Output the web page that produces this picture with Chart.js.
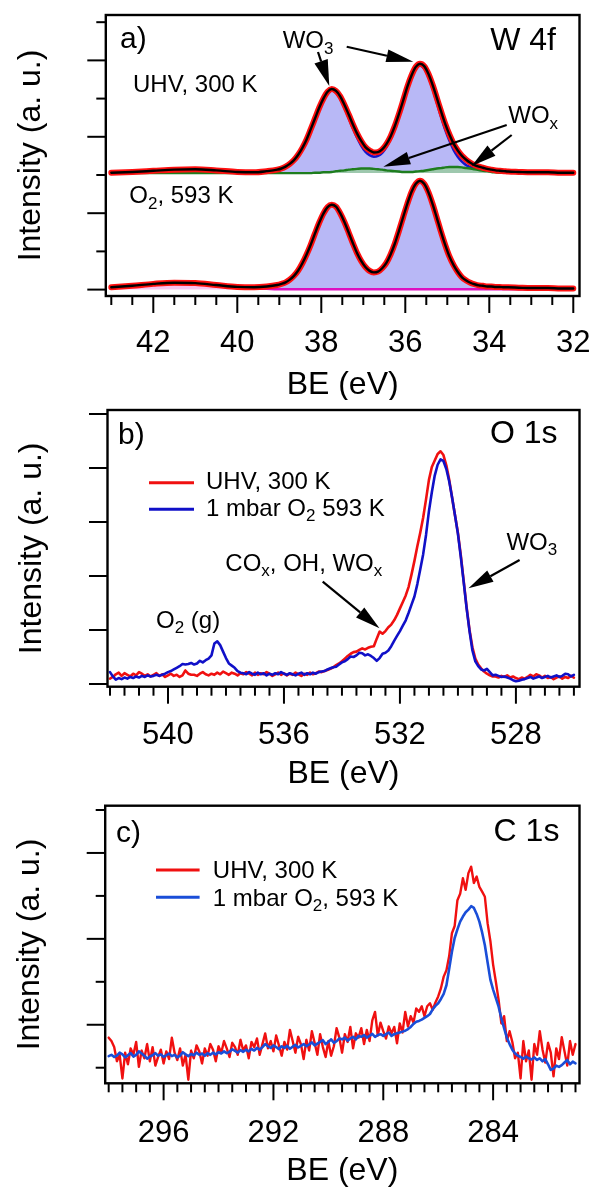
<!DOCTYPE html>
<html><head><meta charset="utf-8">
<script src="https://cdn.jsdelivr.net/npm/chart.js@4.4.1/dist/chart.umd.min.js"></script>
<style>
html,body{margin:0;padding:0;background:#fff;}
#wrap{position:relative;width:593px;height:1189px;overflow:hidden;background:#fff;}
.pane{position:absolute;left:0;width:593px;}
canvas{display:block;}
</style></head><body>
<div id="wrap">
<div class="pane" style="top:0;height:400px"><canvas id="ca" width="593" height="400"></canvas></div>
<div class="pane" style="top:400px;height:392px"><canvas id="cb" width="593" height="392"></canvas></div>
<div class="pane" style="top:792px;height:397px"><canvas id="cc" width="593" height="397"></canvas></div>
</div>
<script>
const FONT = "'Liberation Sans', Arial, Helvetica, sans-serif";

// ---------- Panel a) W 4f ----------
const w4fBE = [43.0,42.5,42.0,41.5,41.0,40.5,40.0,39.6,39.3,
  39.05,38.95,38.85,38.75,38.65,38.55,38.45,38.35,38.25,38.15,
  38.05,37.95,37.85,37.75,37.65,37.55,37.45,37.35,37.25,37.15,
  37.05,36.95,36.85,36.75,36.65,36.55,36.45,36.35,36.25,36.15,
  36.05,35.95,35.85,35.75,35.65,35.55,35.45,35.35,35.25,35.15,
  35.05,34.95,34.85,34.75,34.65,34.55,34.45,34.35,34.25,34.15,
  34.05,33.95,33.85,33.75,33.65,33.55,33.3,33.0,32.6,32.3,32.0];
const w4fUhvFit = [3.06,3.08,3.11,3.14,3.15,3.12,3.08,3.07,3.10,
  3.14,3.17,3.22,3.29,3.39,3.53,3.71,3.93,4.20,4.48,
  4.76,5.00,5.18,5.25,5.20,5.06,4.84,4.59,4.33,4.09,
  3.89,3.73,3.64,3.59,3.60,3.67,3.81,4.01,4.28,4.60,
  4.95,5.31,5.61,5.83,5.91,5.85,5.65,5.36,5.02,4.67,
  4.34,4.06,3.82,3.64,3.50,3.40,3.32,3.26,3.22,3.19,
  3.16,3.14,3.12,3.11,3.10,3.09,3.08,3.07,3.07,3.06,3.06];
const w4fUhvWo3 = [null,null,null,null,null,null,null,3.06,3.09,
  3.14,3.17,3.22,3.29,3.39,3.53,3.71,3.93,4.19,4.47,
  4.75,4.99,5.15,5.21,5.16,5.00,4.77,4.50,4.23,3.98,
  3.77,3.61,3.52,3.48,3.50,3.58,3.73,3.95,4.23,4.56,
  4.92,5.28,5.58,5.79,5.87,5.79,5.57,5.26,4.90,4.53,
  4.19,3.90,3.66,3.48,3.35,3.26,3.21,3.17,3.14,3.13,
  3.11,3.11,3.10,3.10,3.09,3.09,3.08,3.07,3.07,3.07,3.06];
const w4fUhvWox = [3.05,3.05,3.05,3.05,3.05,3.05,3.05,3.05,3.05,
  3.05,3.05,3.05,3.05,3.05,3.05,3.05,3.05,3.05,3.06,
  3.06,3.07,3.07,3.08,3.10,3.11,3.12,3.14,3.15,3.16,
  3.17,3.17,3.17,3.16,3.15,3.14,3.12,3.11,3.10,3.09,
  3.08,3.08,3.08,3.09,3.10,3.11,3.13,3.15,3.17,3.18,
  3.20,3.21,3.21,3.21,3.20,3.18,3.17,3.15,3.13,3.11,
  3.10,3.08,3.07,3.06,3.06,3.06,3.05,3.05,3.05,3.05,3.05];
const w4fO2Fit = [0.06,0.10,0.15,0.18,0.17,0.12,0.07,0.06,0.08,
  0.12,0.15,0.19,0.26,0.36,0.50,0.69,0.92,1.18,1.47,
  1.75,1.99,2.16,2.22,2.17,2.00,1.77,1.50,1.22,0.96,
  0.75,0.59,0.49,0.45,0.47,0.56,0.70,0.92,1.20,1.54,
  1.90,2.25,2.56,2.77,2.85,2.77,2.55,2.24,1.88,1.51,
  1.17,0.87,0.64,0.46,0.32,0.24,0.18,0.14,0.11,0.10,
  0.08,0.08,0.07,0.07,0.06,0.06,0.05,0.04,0.04,0.03,0.03];
const w4fO2Wo3 = [null,null,null,null,null,null,null,null,0.05,
  0.11,0.14,0.18,0.25,0.35,0.49,0.68,0.91,1.17,1.46,
  1.74,1.98,2.15,2.21,2.16,1.99,1.76,1.49,1.21,0.95,
  0.74,0.58,0.48,0.44,0.46,0.55,0.69,0.91,1.19,1.53,
  1.89,2.24,2.55,2.76,2.84,2.76,2.54,2.23,1.87,1.50,
  1.16,0.86,0.63,0.45,0.31,0.23,0.17,0.13,0.10,0.09,
  0.07,0.07,0.06,0.06,0.05,0.05,0.04,0.03,0.03,0.02,0.02];
const w4fO2Bg = [0.05,0.09,0.14,0.17,0.16,0.11,0.06,0.03,0.02,
  0.01,0.01,0.01,0.01,0.01,0.01,0.01,0.01,0.01,0.01,
  0.01,0.01,0.01,0.01,0.01,0.01,0.01,0.01,0.01,0.01,
  0.01,0.01,0.01,0.01,0.01,0.01,0.01,0.01,0.01,0.01,
  0.01,0.01,0.01,0.01,0.01,0.01,0.01,0.01,0.01,0.01,
  0.01,0.01,0.01,0.01,0.01,0.01,0.01,0.01,0.01,0.01,
  0.01,0.01,0.01,0.01,0.01,0.01,0.01,0.01,0.01,0.01,0.01];
const w4fBaseline = 3.05;
const w4fTickLabels = [32,34,36,38,40,42];
const w4fYTicks = [0,1,2,3,4,5,6,7];

// ---------- Panel b) O 1s ----------
const o1sStart = 526.0, o1sStep = 0.1;
const o1sUhv = [
 0.12,0.15,0.11,0.13,0.10,0.14,0.12,0.09,0.13,0.11,
 0.15,0.12,0.16,0.18,0.14,0.17,0.13,0.10,0.12,0.09,
 0.11,0.14,0.12,0.16,0.13,0.15,0.12,0.14,0.14,0.16,
 0.19,0.23,0.29,0.36,0.47,0.68,1.00,1.42,1.90,2.38,
 2.80,3.12,3.45,3.78,4.05,4.24,4.31,4.26,4.14,4.02,
 3.78,3.42,3.08,2.80,2.55,2.28,2.03,1.80,1.64,1.52,
 1.40,1.28,1.18,1.10,1.05,0.98,0.93,0.97,0.84,0.70,
 0.69,0.67,0.64,0.66,0.63,0.60,0.59,0.56,0.52,0.47,
 0.42,0.38,0.35,0.31,0.28,0.26,0.24,0.22,0.23,0.20,
 0.18,0.21,0.17,0.19,0.15,0.18,0.21,0.17,0.19,0.16,
 0.20,0.17,0.21,0.18,0.15,0.19,0.22,0.18,0.20,0.17,
 0.21,0.16,0.19,0.22,0.18,0.20,0.16,0.19,0.21,0.17,
 0.20,0.23,0.18,0.21,0.17,0.19,0.16,0.18,0.22,0.19,
 0.15,0.17,0.17,0.19,0.25,0.16,0.13,0.17,0.15,0.19,
 0.16,0.13,0.18,0.15,0.20,0.17,0.14,0.18,0.15,0.19,
 0.22,0.16,0.19,0.14,0.17,0.20,0.15,0.21,0.18,0.13,
 0.10];
const o1sO2 = [
 0.17,0.14,0.18,0.19,0.15,0.13,0.16,0.14,0.12,0.15,
 0.13,0.11,0.14,0.12,0.10,0.13,0.11,0.09,0.08,0.06,
 0.05,0.07,0.10,0.12,0.14,0.13,0.15,0.17,0.16,0.22,
 0.28,0.25,0.27,0.33,0.42,0.62,0.98,1.40,1.88,2.35,
 2.78,3.12,3.45,3.75,3.98,4.13,4.16,4.06,3.86,3.55,
 3.20,2.76,2.40,2.12,1.85,1.62,1.47,1.32,1.18,1.08,
 0.98,0.89,0.80,0.70,0.62,0.58,0.56,0.48,0.43,0.48,
 0.52,0.55,0.53,0.57,0.58,0.53,0.50,0.51,0.46,0.42,
 0.40,0.36,0.32,0.31,0.29,0.27,0.24,0.23,0.22,0.19,
 0.21,0.18,0.20,0.17,0.21,0.19,0.16,0.18,0.20,0.17,
 0.19,0.22,0.18,0.20,0.17,0.19,0.16,0.20,0.18,0.21,
 0.17,0.19,0.22,0.18,0.20,0.21,0.24,0.30,0.34,0.38,
 0.48,0.60,0.72,0.79,0.75,0.53,0.47,0.44,0.40,0.43,
 0.38,0.36,0.39,0.37,0.36,0.37,0.33,0.30,0.27,0.24,
 0.22,0.19,0.17,0.15,0.17,0.15,0.14,0.16,0.13,0.15,
 0.12,0.14,0.11,0.13,0.10,0.12,0.09,0.11,0.08,0.14,
 0.22];
const o1sTickLabels = [528,532,536,540];
const o1sYTicks = [0,1,2,3,4,5];

// ---------- Panel c) C 1s ----------
const c1sStart = 281.0, c1sStep = 0.1;
const c1sUhv = [
 0.55,0.30,0.62,0.05,0.38,0.71,0.20,0.45,-0.20,0.35,
 0.58,0.12,0.42,0.85,0.30,0.55,-0.28,0.40,0.15,0.62,
 -0.25,0.35,0.22,0.60,0.85,0.62,1.20,1.03,1.58,2.00,
 2.40,2.95,3.36,3.98,4.10,4.21,4.45,4.30,4.68,4.53,
 4.14,4.41,4.05,3.90,3.30,3.13,2.60,2.27,2.12,1.85,
 1.66,1.52,1.35,1.50,1.43,1.20,1.43,1.30,1.38,1.05,
 1.20,0.96,1.30,0.82,1.03,0.57,0.95,0.80,0.96,0.68,
 0.85,1.05,0.75,1.30,1.10,0.62,0.88,0.55,0.92,0.70,
 0.80,0.45,0.95,0.60,0.78,0.35,0.70,0.92,0.50,0.28,
 0.62,0.25,0.48,0.78,0.30,0.58,0.85,0.40,0.65,0.20,
 0.55,0.72,0.35,0.62,0.88,0.42,0.60,0.28,0.52,0.75,
 0.38,0.62,0.45,0.80,0.55,0.30,0.68,0.48,0.60,0.22,
 0.52,0.40,0.65,0.30,0.48,0.58,0.25,0.45,0.62,0.35,
 0.50,0.15,0.42,0.55,0.28,0.45,0.10,0.38,0.52,0.22,
 0.40,-0.28,0.30,0.05,0.45,0.18,0.35,0.70,0.20,0.38,
 0.10,0.42,0.25,0.05,0.48,0.15,0.55,0.22,0.40,0.02,
 0.60,0.30,0.45,0.08,0.35,-0.25,0.30,0.15,0.48,0.62,
 0.70];
const c1sO2 = [
 0.10,0.14,0.08,0.18,0.12,0.06,0.02,0.05,-0.02,-0.05,
 0.08,0.20,0.15,0.22,0.18,0.24,0.19,0.22,0.26,0.21,
 0.25,0.28,0.33,0.42,0.55,0.70,0.92,1.15,1.42,1.62,
 1.82,2.05,2.45,2.85,3.15,3.40,3.58,3.72,3.76,3.68,
 3.62,3.52,3.40,3.22,3.02,2.70,2.30,1.92,1.72,1.60,
 1.50,1.44,1.36,1.25,1.20,1.16,1.12,1.09,1.07,1.02,
 0.95,0.90,0.86,0.84,0.82,0.80,0.78,0.74,0.82,0.78,
 0.74,0.78,0.76,0.72,0.79,0.74,0.70,0.76,0.72,0.74,
 0.66,0.72,0.68,0.63,0.70,0.66,0.68,0.62,0.58,0.66,
 0.60,0.55,0.64,0.60,0.56,0.52,0.59,0.54,0.50,0.55,
 0.51,0.47,0.53,0.49,0.44,0.51,0.46,0.50,0.43,0.48,
 0.52,0.46,0.50,0.55,0.48,0.42,0.46,0.40,0.44,0.38,
 0.42,0.37,0.41,0.35,0.39,0.43,0.37,0.34,0.38,0.33,
 0.36,0.31,0.35,0.30,0.34,0.28,0.33,0.30,0.35,0.29,
 0.32,0.27,0.31,0.36,0.28,0.24,0.30,0.27,0.33,0.29,
 0.25,0.31,0.28,0.34,0.29,0.26,0.21,0.28,0.33,0.38,
 0.30,0.26,0.34,0.29,0.24,0.31,0.35,0.28,0.25,0.30,
 0.27];
const c1sTickLabels = [284,288,292,296];
const c1sYTicks = [0,1,2,3,4,5,6];

const seriesLabels = { uhv: 'UHV, 300 K', o2b: '1 mbar O\u2082 593 K', o2c: '1 mbar O\u2082, 593 K' };

// ---------- helpers ----------
function energyGrid(start, step, n){ const a=[]; for(let i=0;i<n;i++) a.push(+(start+i*step).toFixed(2)); return a; }
function pts(xs, ys){ return xs.map((x,i)=>({x:x, y:ys[i]})); }
function range(a,b,s){ const r=[]; for(let v=a; v<=b+1e-9; v+=s) r.push(+v.toFixed(2)); return r; }

function rich(ctx, x, y, parts, size, align){
  const sub = Math.round(size*0.72);
  let w = 0;
  parts.forEach(([t,s]) => { ctx.font = (s?sub:size)+'px '+FONT; w += ctx.measureText(t).width; });
  let cx = align === 'right' ? x - w : x;
  ctx.textBaseline = 'alphabetic'; ctx.textAlign = 'left'; ctx.fillStyle = '#000';
  parts.forEach(([t,s]) => { ctx.font = (s?sub:size)+'px '+FONT; ctx.fillText(t, cx, s ? y + size*0.22 : y); cx += ctx.measureText(t).width; });
}
function arrow(ctx, x1,y1,x2,y2, hl, hw){
  const ang = Math.atan2(y2-y1, x2-x1);
  const bx = x2 - hl*Math.cos(ang), by = y2 - hl*Math.sin(ang);
  ctx.save(); ctx.strokeStyle='#000'; ctx.fillStyle='#000'; ctx.lineWidth = 2.2;
  ctx.beginPath(); ctx.moveTo(x1,y1); ctx.lineTo(bx,by); ctx.stroke();
  ctx.beginPath(); ctx.moveTo(x2,y2);
  ctx.lineTo(bx + hw/2*Math.sin(ang), by - hw/2*Math.cos(ang));
  ctx.lineTo(bx - hw/2*Math.sin(ang), by + hw/2*Math.cos(ang));
  ctx.closePath(); ctx.fill(); ctx.restore();
}

function framePlugin(spec){
  return {
    id: 'frame_'+spec.name,
    afterDraw(chart){
      const {ctx, chartArea: A, scales: {x, y}} = chart;
      ctx.save();
      ctx.strokeStyle = '#000'; ctx.lineWidth = 2; ctx.lineCap = 'butt';
      spec.xMinor.forEach(v => {
        const p = x.getPixelForValue(v);
        const L = spec.xMajor.indexOf(v) >= 0 ? 17 : 9;
        ctx.beginPath(); ctx.moveTo(p, A.bottom); ctx.lineTo(p, A.bottom + L); ctx.stroke();
      });
      spec.yTicks.forEach(v => {
        const p = y.getPixelForValue(v);
        const L = spec.yLong.indexOf(v) >= 0 ? 18.5 : 9.5;
        ctx.beginPath(); ctx.moveTo(A.left, p); ctx.lineTo(A.left - L, p); ctx.stroke();
      });
      ctx.lineWidth = 2.4;
      ctx.strokeRect(A.left, A.top, A.right - A.left, A.bottom - A.top);
      ctx.restore();
      ctx.save();
      spec.annotate(ctx, chart);
      ctx.restore();
    }
  };
}

function makeOptions(p){
  return {
    responsive: false, animation: false, devicePixelRatio: 1,
    layout: { padding: { left: 0, right: 593 - p.right, top: p.top, bottom: 0 } },
    plugins: { legend: {display:false}, tooltip: {enabled:false} },
    elements: { point: { radius: 0 }, line: { borderJoinStyle: 'round', borderCapStyle: 'round' } },
    scales: {
      x: {
        type: 'linear', reverse: true, min: p.xMin, max: p.xMax,
        afterBuildTicks: s => { s.ticks = p.xLabels.map(v => ({value: v})); },
        afterFit: s => { s.height = p.canvasH - p.bottom; },
        grid: {display:false, drawTicks:false}, border: {display:false},
        ticks: { color:'#000', font:{family:FONT, size:31}, padding:p.tickPad, maxRotation:0, autoSkip:false, callback: v => String(v) },
        title: { display:true, text:'BE (eV)', color:'#000', font:{family:FONT, size:32, lineHeight:1}, padding:{top:0, bottom:p.titlePad} }
      },
      y: {
        type: 'linear', min: p.yMin, max: p.yMax,
        afterBuildTicks: s => { s.ticks = p.yTicks.map(v => ({value: v})); },
        afterFit: s => { s.width = p.left; },
        grid: {display:false, drawTicks:false}, border: {display:false},
        ticks: { display:false },
        title: { display:true, text:'Intensity (a. u.)', color:'#000', font:{family:FONT, size:32, lineHeight:1}, padding:{top:p.yTitlePad, bottom:0} }
      }
    }
  };
}

// ---------- Chart a ----------
const lav = 'rgb(184,184,246)';
new Chart(document.getElementById('ca'), {
  type: 'line',
  data: { datasets: [
    {data: pts(w4fBE, w4fUhvFit), borderColor:'#000', borderWidth:2.4, fill:false, order:0, cubicInterpolationMode:'monotone'},
    {data: pts(w4fBE, w4fO2Fit), borderColor:'#000', borderWidth:2.4, fill:false, order:0, cubicInterpolationMode:'monotone'},
    {data: pts(w4fBE, w4fUhvFit), borderColor:'#ff1010', borderWidth:6, fill:false, order:1, cubicInterpolationMode:'monotone'},
    {data: pts(w4fBE, w4fO2Fit), borderColor:'#ff1010', borderWidth:6, fill:false, order:1, cubicInterpolationMode:'monotone'},
    {data: pts(w4fBE, w4fUhvWox), borderColor:'#1e7d1e', borderWidth:2.4, backgroundColor:'rgba(150,205,150,0.75)', fill:{value:w4fBaseline}, order:2, cubicInterpolationMode:'monotone'},
    {data: pts(w4fBE, w4fUhvWo3), borderColor:'#1414c8', borderWidth:2.6, backgroundColor:lav, fill:{value:w4fBaseline}, order:3, cubicInterpolationMode:'monotone'},
    {data: pts(w4fBE, w4fO2Bg), borderColor:'#dd10c0', borderWidth:2.4, backgroundColor:'rgba(248,190,238,0.9)', fill:'origin', order:2, cubicInterpolationMode:'monotone'},
    {data: pts(w4fBE, w4fO2Wo3), borderColor:'#1414c8', borderWidth:2, backgroundColor:lav, fill:'origin', order:3, cubicInterpolationMode:'monotone'}
  ]},
  options: makeOptions({right:579.5, top:15, bottom:296, left:105.8, canvasH:400,
     xMin:31.852, xMax:43.131, yMin:-0.1675, yMax:7.188, xLabels:w4fTickLabels, yTicks:w4fYTicks,
     tickPad:28.5, titlePad:-1, yTitlePad:15}),
  plugins: [framePlugin({name:'a', xMinor: range(32,43,0.5), xMajor: w4fTickLabels.concat([]),
     yTicks: w4fYTicks, yLong:[0,2,4,6],
     annotate(ctx){
       rich(ctx, 120, 48, [['a)',0]], 30);
       rich(ctx, 556, 50, [['W 4f',0]], 32, 'right');
       rich(ctx, 282.7, 48.3, [['WO',0],['3',1]], 24);
       rich(ctx, 133, 91.7, [['UHV, 300 K',0]], 24);
       rich(ctx, 129.3, 203.3, [['O',0],['2',1],[', 593 K',0]], 24);
       rich(ctx, 508.3, 123.3, [['WO',0],['x',1]], 24);
       arrow(ctx, 318, 52, 329.3, 86, 26, 14);
       arrow(ctx, 346.7, 46.7, 413.3, 61.7, 27, 13);
       arrow(ctx, 506.7, 125, 383.3, 166.7, 27, 13);
       arrow(ctx, 511.7, 135, 471.7, 166, 25, 13);
     }})]
});

// ---------- Chart b ----------
const o1sBE = energyGrid(o1sStart, o1sStep, o1sUhv.length);
new Chart(document.getElementById('cb'), {
  type: 'line',
  data: { datasets: [
    {label: seriesLabels.o2b, data: pts(o1sBE, o1sO2), borderColor:'#1010c8', borderWidth:2.6, fill:false, tension:0, order:0},
    {label: seriesLabels.uhv, data: pts(o1sBE, o1sUhv), borderColor:'#f01010', borderWidth:2.6, fill:false, tension:0, order:1}
  ]},
  options: makeOptions({right:579.5, top:10, bottom:286.7, left:107.5, canvasH:392,
     xMin:525.807, xMax:542.086, yMin:-0.05, yMax:5.074, xLabels:o1sTickLabels, yTicks:o1sYTicks,
     tickPad:30.3, titlePad:1.5, yTitlePad:16}),
  plugins: [framePlugin({name:'b', xMinor: range(526,542,0.5), xMajor: o1sTickLabels.concat([]),
     yTicks: o1sYTicks, yLong:o1sYTicks.concat([]),
     annotate(ctx, chart){
       const ds = chart.data.datasets;
       rich(ctx, 118, 44, [['b)',0]], 30);
       rich(ctx, 557.5, 43.3, [['O 1s',0]], 32, 'right');
       ctx.lineWidth = 3;
       ctx.strokeStyle = ds[1].borderColor; ctx.beginPath(); ctx.moveTo(149,82.7); ctx.lineTo(194,82.7); ctx.stroke();
       ctx.strokeStyle = ds[0].borderColor; ctx.beginPath(); ctx.moveTo(149,109.3); ctx.lineTo(194,109.3); ctx.stroke();
       rich(ctx, 206, 89.3, [[ds[1].label,0]], 24);
       rich(ctx, 206, 116, [['1 mbar O',0],['2',1],[' 593 K',0]], 24);
       rich(ctx, 506.4, 150, [['WO',0],['3',1]], 24);
       arrow(ctx, 519.6, 160, 468.5, 188.3, 25, 13);
       rich(ctx, 225.3, 171, [['CO',0],['x',1],[', OH, WO',0],['x',1]], 24);
       arrow(ctx, 322.7, 181.7, 379.5, 228.3, 25, 13);
       rich(ctx, 156, 228, [['O',0],['2',1],[' (g)',0]], 24);
     }})]
});

// ---------- Chart c ----------
const c1sBE = energyGrid(c1sStart, c1sStep, c1sUhv.length);
new Chart(document.getElementById('cc'), {
  type: 'line',
  data: { datasets: [
    {label: seriesLabels.o2c, data: pts(c1sBE, c1sO2), borderColor:'#1a4ed8', borderWidth:2.6, fill:false, tension:0, order:0},
    {label: seriesLabels.uhv, data: pts(c1sBE, c1sUhv), borderColor:'#f01010', borderWidth:2.4, fill:false, tension:0, order:1}
  ]},
  options: makeOptions({right:579.5, top:13.7, bottom:291.3, left:105.2, canvasH:397,
     xMin:280.854, xMax:298.127, yMin:-0.363, yMax:6.10, xLabels:c1sTickLabels, yTicks:c1sYTicks,
     tickPad:31.7, titlePad:1.8, yTitlePad:14.5}),
  plugins: [framePlugin({name:'c', xMinor: range(281,298,0.5), xMajor: c1sTickLabels.concat([]),
     yTicks: c1sYTicks, yLong:[1,3,5],
     annotate(ctx, chart){
       const ds = chart.data.datasets;
       rich(ctx, 116, 50, [['c)',0]], 30);
       rich(ctx, 559.4, 48.7, [['C 1s',0]], 32, 'right');
       ctx.lineWidth = 3;
       ctx.strokeStyle = ds[1].borderColor; ctx.beginPath(); ctx.moveTo(156,78); ctx.lineTo(199.6,78); ctx.stroke();
       ctx.strokeStyle = ds[0].borderColor; ctx.beginPath(); ctx.moveTo(156,105.3); ctx.lineTo(199.6,105.3); ctx.stroke();
       rich(ctx, 212.8, 86.3, [[ds[1].label,0]], 24);
       rich(ctx, 212.8, 113.5, [['1 mbar O',0],['2',1],[', 593 K',0]], 24);
     }})]
});
</script>
</body></html>
